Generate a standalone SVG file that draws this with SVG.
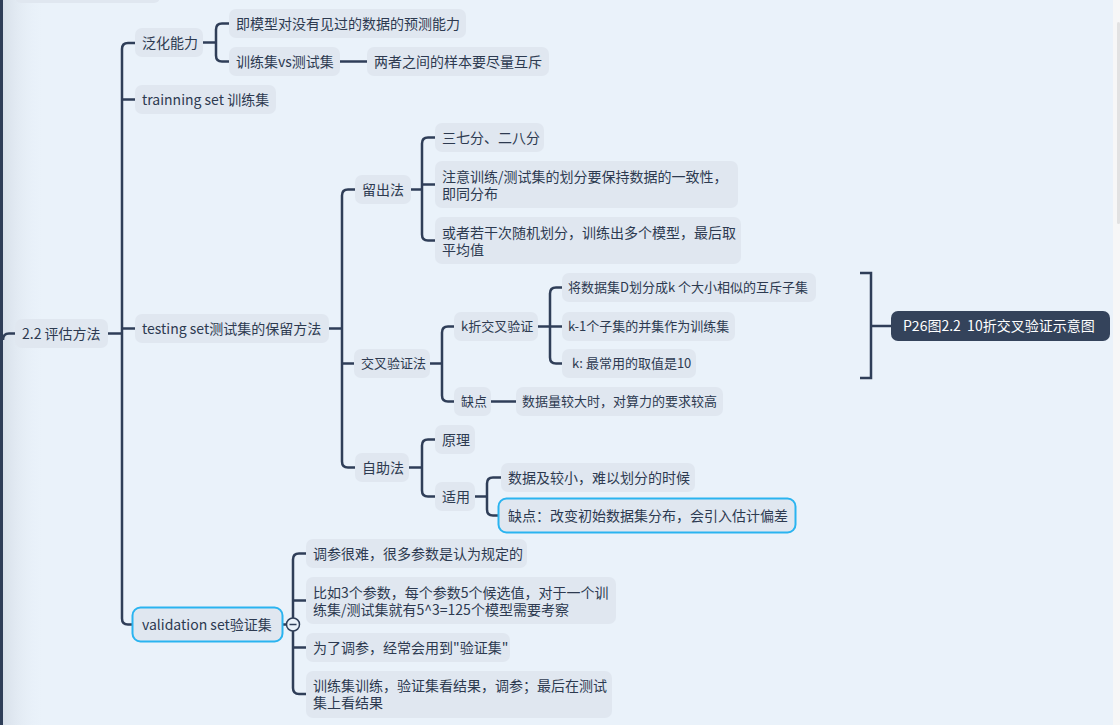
<svg xmlns="http://www.w3.org/2000/svg" width="1120" height="725" viewBox="0 0 1120 725">
<defs>
<linearGradient id="edge" x1="0" x2="1" y1="0" y2="0">
<stop offset="0" stop-color="#d8e0ea"/>
<stop offset="1" stop-color="#eaf2fa" stop-opacity="0"/>
</linearGradient>
<style>
.n rect{fill:#e0e7f0;}
.n text,.t{font-family:"Noto Sans CJK SC","Noto Sans",sans-serif;font-size:14px;fill:#2d3a50;}
.n text.sm{font-size:13px;}
.hl{fill:none;stroke:#2ab4f0;stroke-width:2;}
.c path{fill:none;stroke:#2f3e58;stroke-width:2.5;stroke-linecap:butt;}
.s text{font-family:"Noto Sans CJK SC","Noto Sans",sans-serif;font-size:14px;fill:#ffffff;}
</style>
</defs>
<rect x="0" y="0" width="1120" height="725" fill="#eaf2fa"/>
<rect x="3" y="0" width="42" height="725" fill="url(#edge)"/>
<rect x="0" y="0" width="3" height="725" fill="#2f3e58"/>
<rect x="15" y="-20" width="145" height="23" rx="6" fill="#e0e7f0"/>
<rect x="1113" y="0" width="7" height="725" fill="#f7f7f7"/>
<rect x="1117" y="22" width="3" height="202" rx="1.5" fill="#e2e2e2"/>

<g class="c" id="connectors">
<path d="M3,340 Q3,333.5 9,333.5 H15"/>
<path d="M108,333.5 H122"/>
<path d="M135,43 H128 Q122,43 122,49 V618.5 Q122,624.5 128,624.5 H133"/>
<path d="M122,99.5 H135"/>
<path d="M122,328.5 H135"/>
<path d="M203,42.5 H216"/>
<path d="M229,23.5 H222 Q216,23.5 216,29.5 V55.5 Q216,61.5 222,61.5 H229"/>
<path d="M340,61.5 H367"/>
<path d="M329,328.5 H342"/>
<path d="M355,189.5 H348 Q342,189.5 342,195.5 V461.5 Q342,467.5 348,467.5 H355"/>
<path d="M342,363.5 H354"/>
<path d="M411,189.5 H422"/>
<path d="M435,137.5 H428 Q422,137.5 422,143.5 V234.5 Q422,240.5 428,240.5 H435"/>
<path d="M422,184.5 H435"/>
<path d="M430,363.5 H442"/>
<path d="M454,326.5 H448 Q442,326.5 442,332.5 V395.5 Q442,401.5 448,401.5 H454"/>
<path d="M538,326.5 H550"/>
<path d="M562,287.5 H556 Q550,287.5 550,293.5 V357.5 Q550,363.5 556,363.5 H562"/>
<path d="M550,326.5 H562"/>
<path d="M491,401.5 H516"/>
<path d="M409,467.5 H422"/>
<path d="M435,439.5 H428 Q422,439.5 422,445.5 V490.5 Q422,496.5 428,496.5 H435"/>
<path d="M475,496.5 H487"/>
<path d="M501,477.5 H493 Q487,477.5 487,483.5 V509.5 Q487,515.5 493,515.5 H499"/>
<path d="M283,624.5 H293"/>
<path d="M306,553.5 H299 Q293,553.5 293,559.5 V688 Q293,694 299,694 H306"/>
<path d="M293,600.5 H306"/>
<path d="M293,647.5 H306"/>
<path d="M860,273 H871 V378 H860"/>
<path d="M871,326 H891"/>
</g>

<g class="n" id="root"><rect x="15" y="319" width="93" height="29" rx="7"/><text x="22" y="338.5">2.2 评估方法</text></g>

<g class="n" id="fanhua"><rect x="135" y="28" width="68" height="29" rx="7"/><text x="142" y="47.5">泛化能力</text></g>
<g class="n" id="fanhua-def"><rect x="229" y="9" width="237" height="29" rx="7"/><text x="236" y="28.5">即模型对没有见过的数据的预测能力</text></g>
<g class="n" id="train-vs-test"><rect x="229" y="47" width="111" height="29" rx="7"/><text x="236" y="66.5">训练集vs测试集</text></g>
<g class="n" id="huchi"><rect x="367" y="47" width="182" height="29" rx="7"/><text x="374" y="66.5">两者之间的样本要尽量互斥</text></g>

<g class="n" id="trainset"><rect x="135" y="85" width="141" height="29" rx="7"/><text x="142" y="104.5">trainning set 训练集</text></g>

<g class="n" id="testset"><rect x="135" y="314" width="194" height="29" rx="7"/><text x="142" y="333.5">testing set测试集的保留方法</text></g>

<g class="n" id="liuchu"><rect x="355" y="175" width="56" height="29" rx="7"/><text x="362" y="194.5">留出法</text></g>
<g class="n" id="liuchu-1"><rect x="435" y="123" width="109" height="29" rx="7"/><text x="442" y="142.5">三七分、二八分</text></g>
<g class="n" id="liuchu-2"><rect x="435" y="161" width="303" height="47" rx="7"/><text x="442" y="181.5">注意训练/测试集的划分要保持数据的一致性，<tspan x="442" dy="17">即同分布</tspan></text></g>
<g class="n" id="liuchu-3"><rect x="435" y="217" width="306" height="47" rx="7"/><text x="442" y="237.5">或者若干次随机划分，训练出多个模型，最后取<tspan x="442" dy="17">平均值</tspan></text></g>

<g class="n" id="jiaocha"><rect x="354" y="349" width="76" height="29" rx="7"/><text class="sm" x="361" y="368">交叉验证法</text></g>
<g class="n" id="kfold"><rect x="454" y="312" width="84" height="29" rx="7"/><text class="sm" x="461" y="331">k折交叉验证</text></g>
<g class="n" id="kfold-1"><rect x="562" y="273" width="254" height="29" rx="7"/><text class="sm" x="568" y="292">将数据集D划分成k 个大小相似的互斥子集</text></g>
<g class="n" id="kfold-2"><rect x="562" y="312" width="173" height="29" rx="7"/><text class="sm" x="568" y="331">k-1个子集的并集作为训练集</text></g>
<g class="n" id="kfold-3"><rect x="562" y="349" width="134" height="29" rx="7"/><text class="sm" x="572" y="368">k: 最常用的取值是10</text></g>
<g class="n" id="jc-quedian"><rect x="454" y="387" width="37" height="29" rx="7"/><text class="sm" x="461" y="406">缺点</text></g>
<g class="n" id="jc-quedian-1"><rect x="516" y="387" width="207" height="29" rx="7"/><text class="sm" x="522" y="406">数据量较大时，对算力的要求较高</text></g>

<g class="s" id="summary"><rect x="891" y="311" width="219" height="30" rx="7" fill="#34435b"/><text x="903" y="331" xml:space="preserve">P26图2.2  10折交叉验证示意图</text></g>

<g class="n" id="zizhu"><rect x="355" y="453" width="54" height="29" rx="7"/><text x="362" y="472.5">自助法</text></g>
<g class="n" id="yuanli"><rect x="435" y="425" width="40" height="29" rx="7"/><text x="442" y="444.5">原理</text></g>
<g class="n" id="shiyong"><rect x="435" y="482" width="40" height="29" rx="7"/><text x="442" y="501.5">适用</text></g>
<g class="n" id="shiyong-1"><rect x="501" y="463" width="194" height="29" rx="7"/><text x="508" y="482.5">数据及较小，难以划分的时候</text></g>
<g class="n" id="shiyong-2"><rect x="501" y="501" width="292" height="29" rx="7"/><rect class="hl" x="498.5" y="498.5" width="297" height="34" rx="8"/><text x="508" y="520.5">缺点：改变初始数据集分布，会引入估计偏差</text></g>

<g class="n" id="valid"><rect x="135" y="610" width="145" height="29" rx="7"/><rect class="hl" x="132.5" y="607.5" width="150" height="34" rx="8"/><text x="142" y="629.5">validation set验证集</text></g>
<g id="collapse"><circle cx="293" cy="624.5" r="6.5" fill="#eaf2fa" stroke="#2f3e58" stroke-width="1.5"/><path d="M289.5,624.5 H296.5" stroke="#2f3e58" stroke-width="1.5"/></g>
<g class="n" id="valid-1"><rect x="306" y="539" width="221" height="29" rx="7"/><text x="313" y="558.5">调参很难，很多参数是认为规定的</text></g>
<g class="n" id="valid-2"><rect x="306" y="577" width="310" height="47" rx="7"/><text x="313" y="597.5">比如3个参数，每个参数5个候选值，对于一个训<tspan x="313" dy="17">练集/测试集就有5^3=125个模型需要考察</tspan></text></g>
<g class="n" id="valid-3"><rect x="306" y="633" width="204" height="29" rx="7"/><text x="313" y="652.5">为了调参，经常会用到"验证集"</text></g>
<g class="n" id="valid-4"><rect x="306" y="671" width="306" height="47" rx="7"/><text x="313" y="690.5">训练集训练，验证集看结果，调参；最后在测试<tspan x="313" dy="17">集上看结果</tspan></text></g>
</svg>
